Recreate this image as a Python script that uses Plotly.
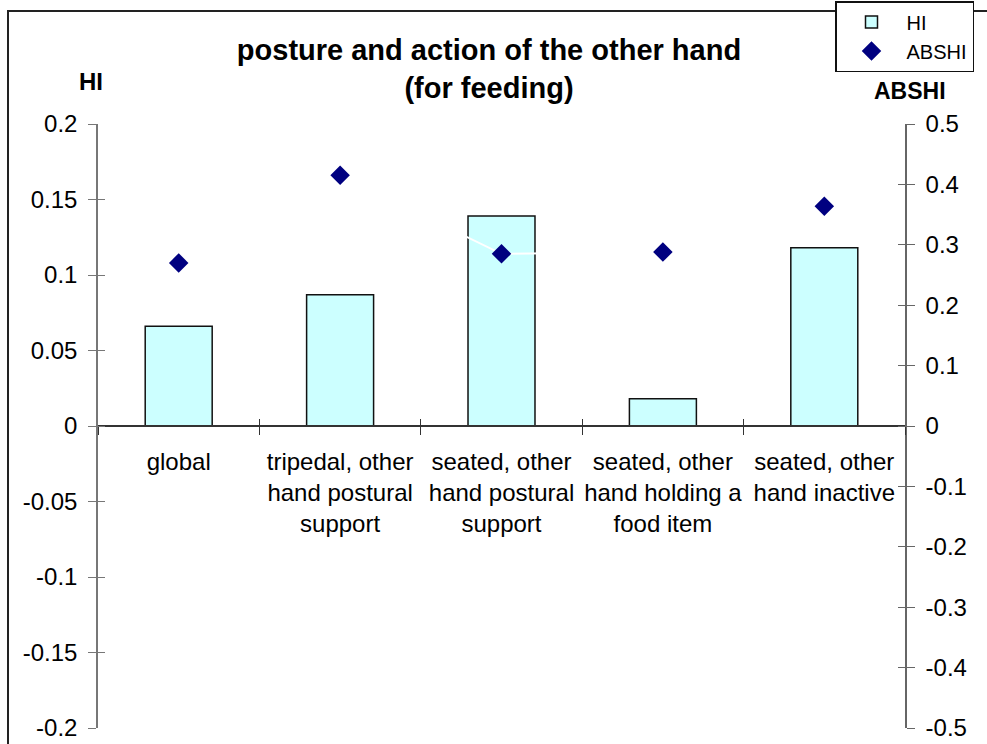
import plotly.graph_objects as go

# Categories (multi-line tick labels)
categories = [
    "global",
    "tripedal, other<br>hand postural<br>support",
    "seated, other<br>hand postural<br>support",
    "seated, other<br>hand holding a<br>food item",
    "seated, other<br>hand inactive",
]

# Series values
hi_values = [0.066, 0.087, 0.139, 0.018, 0.118]
abshi_values = [0.270, 0.415, 0.285, 0.288, 0.364]

# Axis tick values / labels
hi_ticks = [-0.2, -0.15, -0.1, -0.05, 0, 0.05, 0.1, 0.15, 0.2]
hi_ticktext = ["-0.2", "-0.15", "-0.1", "-0.05", "0", "0.05", "0.1", "0.15", "0.2"]
abshi_ticks = [-0.5, -0.4, -0.3, -0.2, -0.1, 0, 0.1, 0.2, 0.3, 0.4, 0.5]
abshi_ticktext = ["-0.5", "-0.4", "-0.3", "-0.2", "-0.1", "0", "0.1", "0.2", "0.3", "0.4", "0.5"]

FONT = "Liberation Sans, Arial, sans-serif"
W, H = 987, 744
L, R, T, B = 98, 82, 124, 16
plot_w = W - L - R
plot_h = H - T - B


def px_x(x):
    return (x - L) / plot_w


def px_y(y):
    return (H - B - y) / plot_h


fig = go.Figure()

fig.add_trace(go.Bar(
    x=categories, y=hi_values, name="HI",
    marker=dict(color="#CCFFFF", line=dict(color="#111111", width=1.5)),
    xaxis="x", yaxis="y",
))

fig.add_trace(go.Scatter(
    x=categories, y=abshi_values, name="ABSHI",
    mode="lines+markers",
    line=dict(color="#FFFFFF", width=2),
    marker=dict(symbol="diamond", size=15, color="#000080"),
    xaxis="x", yaxis="y2",
))

# Empty helper traces: they carry the inner halves of the crossing tick marks
fig.add_trace(go.Scatter(x=categories, y=[None] * 5, xaxis="x", yaxis="y3",
                         showlegend=False, hoverinfo="skip"))
fig.add_trace(go.Scatter(x=categories, y=[None] * 5, xaxis="x", yaxis="y4",
                         showlegend=False, hoverinfo="skip"))
fig.add_trace(go.Scatter(x=categories, y=[None] * 5, xaxis="x2", yaxis="y",
                         showlegend=False, hoverinfo="skip"))

tick_font = dict(family=FONT, size=24, color="#000000")
cat_range = [-0.5, len(categories) - 0.5]

fig.update_layout(
    width=W, height=H,
    margin=dict(l=L, r=R, t=T, b=B, autoexpand=False),
    paper_bgcolor="white", plot_bgcolor="white",
    font=dict(family=FONT, color="#000000"),
    bargap=0.585,
    showlegend=True,
    legend=dict(
        x=px_x(835), xanchor="left", y=px_y(1), yanchor="top",
        bordercolor="#111111", borderwidth=1.5, bgcolor="white",
        font=dict(family=FONT, size=20), tracegroupgap=0,
        traceorder="normal", itemwidth=60,
    ),
    title=dict(
        text="<b>posture and action of the other hand</b><br><b>(for feeding)</b>",
        font=dict(family=FONT, size=29, color="#000000"),
        x=px_x(489), xref="paper", xanchor="center",
        y=1 - 60 / H, yref="container", yanchor="middle",
    ),
    xaxis=dict(
        type="category", range=cat_range, anchor="free", position=0.5,
        showline=True, linecolor="#333333", linewidth=1.5,
        ticks="outside", ticklen=8, tickwidth=1.2, tickcolor="#333333",
        tickson="boundaries", ticklabelstandoff=14, tickangle=0,
        showgrid=False, zeroline=False, tickfont=tick_font,
    ),
    xaxis2=dict(
        type="category", range=cat_range, overlaying="x",
        anchor="free", position=0.5,
        showline=False, showticklabels=False,
        ticks="inside", ticklen=7, tickwidth=1.2, tickcolor="#333333",
        tickson="boundaries", showgrid=False, zeroline=False,
    ),
    yaxis=dict(
        range=[-0.2, 0.2], tickvals=hi_ticks, ticktext=hi_ticktext,
        showline=True, linecolor="#777777", linewidth=1.5,
        ticks="outside", ticklen=8, tickwidth=1.2, tickcolor="#777777",
        ticklabelstandoff=6,
        showgrid=False, zeroline=False, tickfont=tick_font,
    ),
    yaxis3=dict(
        range=[-0.2, 0.2], tickvals=hi_ticks, overlaying="y", side="left",
        anchor="x", showline=False, showticklabels=False,
        ticks="inside", ticklen=7, tickwidth=1.2, tickcolor="#777777",
        showgrid=False, zeroline=False,
    ),
    yaxis2=dict(
        range=[-0.5, 0.5], tickvals=abshi_ticks, ticktext=abshi_ticktext,
        overlaying="y", side="right", anchor="x",
        showline=True, linecolor="#666666", linewidth=1.5,
        ticks="outside", ticklen=8, tickwidth=1.2, tickcolor="#666666",
        ticklabelstandoff=6,
        showgrid=False, zeroline=False, tickfont=tick_font,
    ),
    yaxis4=dict(
        range=[-0.5, 0.5], tickvals=abshi_ticks, overlaying="y", side="right",
        anchor="x", showline=False, showticklabels=False,
        ticks="inside", ticklen=7, tickwidth=1.2, tickcolor="#666666",
        showgrid=False, zeroline=False,
    ),
)

# Axis titles
fig.add_annotation(text="<b>HI</b>", x=px_x(91), y=px_y(82), xref="paper", yref="paper",
                   showarrow=False, font=dict(family=FONT, size=24), xanchor="center", yanchor="middle")
fig.add_annotation(text="<b>ABSHI</b>", x=px_x(910), y=px_y(91), xref="paper", yref="paper",
                   showarrow=False, font=dict(family=FONT, size=23), xanchor="center", yanchor="middle")

# Chart-area border
fig.add_shape(type="rect", xref="paper", yref="paper",
              x0=px_x(8), x1=px_x(1100), y0=px_y(900), y1=px_y(11),
              line=dict(color="#222222", width=2), fillcolor="rgba(0,0,0,0)", layer="below")

fig.write_html("out.html")
